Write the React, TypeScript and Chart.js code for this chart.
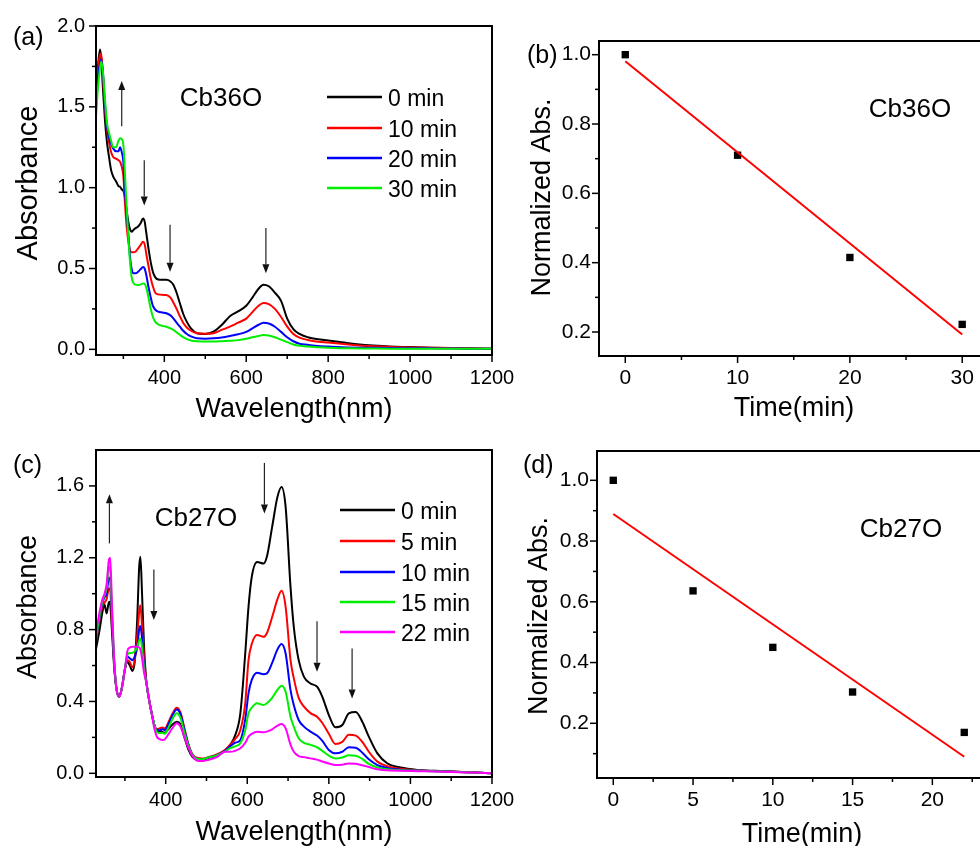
import React, { useEffect, useRef } from "react";
import { Chart, registerables } from "chart.js";

Chart.register(...registerables);

const FONT = '"Liberation Sans", Arial, Helvetica, sans-serif';
Chart.defaults.font.family = FONT;
Chart.defaults.color = "#000";

const W = 1000;
const H = 846;
const Y_AXIS_W = 70;
const X_AXIS_H = 40;

// ---------------- Panel (a): Cb36O spectra ----------------
const aWavelength = [
  233, 238, 243, 246, 250,
  255, 260, 265, 270, 275,
  282, 288, 292, 296, 300,
  304, 308, 312, 316, 320,
  325, 330, 336, 342, 348,
  352, 356, 361, 366, 372,
  378, 385, 395, 405, 415,
  422, 430, 438, 446, 455,
  465, 480, 500, 520, 540,
  560, 580, 600, 615, 630,
  642, 655, 670, 685, 700,
  715, 730, 750, 775, 800,
  850, 900, 950, 1000, 1050,
  1100, 1150, 1200,
];
const aAbs0min = [
  1.55, 1.75, 1.855, 1.8, 1.62,
  1.42, 1.28, 1.19, 1.11, 1.07,
  1.04, 1.01, 1.005, 0.99, 0.98,
  0.94, 0.86, 0.79, 0.745, 0.727,
  0.74, 0.75, 0.76, 0.78, 0.81,
  0.79, 0.72, 0.63, 0.55, 0.48,
  0.445, 0.432, 0.43, 0.43, 0.42,
  0.4, 0.35, 0.285, 0.22, 0.17,
  0.13, 0.1, 0.095, 0.109, 0.15,
  0.205, 0.235, 0.27, 0.32, 0.375,
  0.4, 0.39, 0.35, 0.3, 0.19,
  0.125, 0.095, 0.075, 0.062, 0.055,
  0.038, 0.025, 0.018, 0.014, 0.01,
  0.008, 0.006, 0.004,
];
const aAbs10min = [
  1.52, 1.72, 1.82, 1.83, 1.7,
  1.5, 1.36, 1.28, 1.22, 1.19,
  1.18, 1.17, 1.16, 1.13, 1.07,
  0.9, 0.76, 0.67, 0.615, 0.6,
  0.6, 0.605, 0.625, 0.645, 0.665,
  0.65, 0.59, 0.52, 0.45, 0.39,
  0.35, 0.34, 0.337, 0.336, 0.32,
  0.29, 0.25, 0.205, 0.165, 0.135,
  0.115, 0.1, 0.097, 0.1, 0.12,
  0.14, 0.165, 0.19, 0.23, 0.27,
  0.287, 0.28, 0.25, 0.2, 0.14,
  0.095, 0.072, 0.058, 0.047, 0.042,
  0.03, 0.02, 0.015, 0.012, 0.01,
  0.008, 0.005, 0.004,
];
const aAbs20min = [
  1.48, 1.68, 1.77, 1.79, 1.72,
  1.52, 1.38, 1.31, 1.27, 1.243,
  1.225, 1.225, 1.25, 1.22, 1.16,
  0.97, 0.84, 0.72, 0.58, 0.5,
  0.47, 0.47, 0.48, 0.495, 0.51,
  0.5, 0.46, 0.39, 0.33, 0.27,
  0.245, 0.233, 0.228, 0.223, 0.21,
  0.192, 0.165, 0.14, 0.115, 0.095,
  0.08, 0.068, 0.066, 0.068, 0.073,
  0.082, 0.093, 0.108, 0.13, 0.152,
  0.165, 0.16, 0.14, 0.108, 0.075,
  0.05, 0.035, 0.028, 0.02, 0.017,
  0.012, 0.01, 0.008, 0.007, 0.006,
  0.005, 0.004, 0.004,
];
const aAbs30min = [
  1.43, 1.62, 1.74, 1.78, 1.72,
  1.55, 1.4, 1.34, 1.29, 1.25,
  1.25, 1.29, 1.305, 1.3, 1.264,
  1.08, 0.88, 0.7, 0.55, 0.45,
  0.408, 0.4, 0.398, 0.4, 0.408,
  0.405, 0.38, 0.325, 0.26, 0.2,
  0.17, 0.155, 0.145, 0.14, 0.13,
  0.12, 0.105, 0.09, 0.075, 0.063,
  0.055, 0.05, 0.048, 0.048, 0.05,
  0.053, 0.057, 0.065, 0.075, 0.083,
  0.088, 0.085, 0.075, 0.06, 0.045,
  0.03, 0.022, 0.017, 0.013, 0.01,
  0.006, 0.005, 0.004, 0.004, 0.004,
  0.004, 0.003, 0.004,
];
const aLabels = ["0 min", "10 min", "20 min", "30 min"];
const aArrowWl = [296, 351, 414, 648];
const aArrowFrom = [1.38, 1.17, 0.77, 0.75];
const aArrowTo = [1.66, 0.89, 0.48, 0.47];

// ---------------- Panel (b): Cb36O kinetics ----------------
const bTime = [0, 10, 20, 30];
const bNormAbs = [1.0, 0.71, 0.415, 0.222];
const bFitTime = [0, 30];
const bFitAbs = [0.981, 0.193];

// ---------------- Panel (c): Cb27O spectra ----------------
const cWavelength = [
  229, 238, 245, 250, 255,
  261, 264, 268, 274, 280,
  286, 292, 300, 306, 312,
  318, 324, 330, 335, 338,
  342, 347, 353, 360, 366,
  372, 378, 385, 392, 398,
  406, 416, 427, 436, 446,
  456, 466, 478, 490, 505,
  525, 545, 558, 570, 583,
  595, 603, 611, 624, 640,
  648, 661, 674, 684, 694,
  706, 714, 726, 739, 755,
  771, 784, 800, 816, 833,
  849, 866, 882, 898, 919,
  943, 976, 1017, 1080, 1150,
  1200,
];
const cAbs0min = [
  0.69, 0.8, 0.9, 0.94, 0.89,
  0.955, 0.94, 0.8, 0.58, 0.46,
  0.426, 0.47, 0.58, 0.62, 0.6,
  0.57, 0.62, 0.85, 1.15, 1.205,
  1.0, 0.7, 0.5, 0.4, 0.33,
  0.27, 0.24, 0.235, 0.23, 0.225,
  0.245, 0.27, 0.287, 0.275, 0.2,
  0.13, 0.09, 0.075, 0.075, 0.085,
  0.1, 0.125, 0.158, 0.21, 0.334,
  0.667, 0.927, 1.094, 1.177, 1.168,
  1.205, 1.372, 1.539, 1.594, 1.483,
  1.038, 0.816, 0.63, 0.537, 0.5,
  0.482, 0.426, 0.324, 0.256, 0.269,
  0.334, 0.341, 0.287, 0.204, 0.111,
  0.056, 0.032, 0.019, 0.012, 0.006,
  0.0,
];
const cAbs5min = [
  0.73, 0.86, 0.93, 0.95, 0.97,
  1.03, 1.02, 0.85, 0.6, 0.46,
  0.426, 0.47, 0.58, 0.63, 0.62,
  0.59, 0.63, 0.76, 0.9, 0.936,
  0.82, 0.64, 0.5, 0.4, 0.33,
  0.27, 0.245, 0.25, 0.255, 0.25,
  0.28, 0.33, 0.365, 0.34, 0.25,
  0.16, 0.105, 0.085, 0.082, 0.09,
  0.105, 0.13, 0.16, 0.19, 0.24,
  0.39, 0.63, 0.72, 0.77, 0.76,
  0.78, 0.87, 0.97, 1.016, 0.927,
  0.63, 0.53, 0.42, 0.371, 0.335,
  0.315, 0.28, 0.22, 0.163, 0.175,
  0.215, 0.21, 0.175, 0.12, 0.065,
  0.04, 0.025, 0.017, 0.011, 0.006,
  0.0,
];
const cAbs10min = [
  0.74, 0.87, 0.95, 0.98, 1.0,
  1.09, 1.08, 0.88, 0.6, 0.46,
  0.426, 0.47, 0.58, 0.65, 0.64,
  0.63, 0.65, 0.7, 0.8, 0.82,
  0.75, 0.6, 0.5, 0.4, 0.33,
  0.27, 0.24, 0.24, 0.245, 0.24,
  0.27, 0.32, 0.355, 0.33, 0.24,
  0.155, 0.1, 0.08, 0.078, 0.088,
  0.1, 0.125, 0.15, 0.17, 0.185,
  0.3, 0.445, 0.52, 0.56, 0.552,
  0.556, 0.615, 0.69, 0.72, 0.667,
  0.463, 0.38, 0.297, 0.26, 0.232,
  0.21, 0.18, 0.13, 0.111, 0.12,
  0.145, 0.142, 0.115, 0.078, 0.046,
  0.03, 0.02, 0.015, 0.01, 0.005,
  0.0,
];
const cAbs15min = [
  0.75, 0.88, 0.96, 0.99, 1.03,
  1.15, 1.13, 0.92, 0.62, 0.46,
  0.426, 0.47, 0.58, 0.66, 0.67,
  0.67, 0.68, 0.7, 0.74, 0.75,
  0.7, 0.58, 0.5, 0.4, 0.33,
  0.27, 0.23, 0.225, 0.225, 0.22,
  0.25, 0.3, 0.335, 0.31, 0.225,
  0.15, 0.1, 0.08, 0.078, 0.088,
  0.1, 0.12, 0.14, 0.15, 0.167,
  0.24, 0.334, 0.365, 0.39, 0.38,
  0.39, 0.42, 0.465, 0.488, 0.454,
  0.315, 0.26, 0.195, 0.17, 0.158,
  0.145, 0.125, 0.098, 0.083, 0.088,
  0.1, 0.098, 0.08, 0.052, 0.032,
  0.022, 0.017, 0.014, 0.01, 0.005,
  0.0,
];
const cAbs22min = [
  0.78, 0.9, 0.97, 1.0, 1.05,
  1.19, 1.2, 0.95, 0.62, 0.46,
  0.426, 0.47, 0.58, 0.68, 0.7,
  0.705, 0.705, 0.705, 0.7, 0.69,
  0.64, 0.56, 0.5, 0.4, 0.33,
  0.25, 0.205, 0.19, 0.185, 0.19,
  0.215, 0.25, 0.278, 0.26, 0.2,
  0.14, 0.095, 0.07, 0.068, 0.075,
  0.09, 0.12, 0.12, 0.125, 0.139,
  0.17, 0.204, 0.22, 0.232, 0.228,
  0.232, 0.245, 0.265, 0.274, 0.25,
  0.16, 0.12, 0.096, 0.09, 0.083,
  0.076, 0.066, 0.055, 0.046, 0.048,
  0.055, 0.053, 0.045, 0.035, 0.022,
  0.017, 0.014, 0.012, 0.009, 0.004,
  0.0,
];
const cLabels = ["0 min", "5 min", "10 min", "15 min", "22 min"];
const cArrowWl = [262, 371, 642, 771, 857];
const cArrowFrom = [1.28, 1.135, 1.728, 0.847, 0.695];
const cArrowTo = [1.554, 0.853, 1.446, 0.565, 0.417];

// ---------------- Panel (d): Cb27O kinetics ----------------
const dTime = [0, 5, 10, 15, 22];
const dNormAbs = [1.0, 0.636, 0.45, 0.303, 0.17];
const dFitTime = [0, 22];
const dFitAbs = [0.889, 0.09];

// ---------------- Tick values ----------------
const wlMajor = [400, 600, 800, 1000, 1200];
const wlMinor = [300, 500, 700, 900, 1100];
const aAbsMajor = [0, 0.5, 1.0, 1.5, 2.0];
const aAbsMinor = [0.25, 0.75, 1.25, 1.75];
const cAbsMajor = [0, 0.4, 0.8, 1.2, 1.6];
const cAbsMinor = [0.2, 0.6, 1.0, 1.4];
const bTimeMajor = [0, 10, 20, 30];
const bTimeMinor = [5, 15, 25];
const dTimeMajor = [0, 5, 10, 15, 20];
const dTimeMinor = [2.5, 7.5, 12.5, 17.5, 22.5];
const normMajor = [0.2, 0.4, 0.6, 0.8, 1.0];
const normMinor = [0.1, 0.3, 0.5, 0.7, 0.9];

// ---------------- helpers ----------------
const pairs = (xs: number[], ys: number[]) => xs.map((x, i) => ({ x, y: ys[i] }));

const spectrum = (label: string, xs: number[], ys: number[], color: string, order: number) => ({
  label,
  data: pairs(xs, ys),
  showLine: true,
  borderColor: color,
  backgroundColor: color,
  borderWidth: 2,
  pointRadius: 0,
  cubicInterpolationMode: "monotone",
  order,
});

type TextItem = { text: string; x: number; y: number; size: number; align?: CanvasTextAlign; rotate?: boolean };

type PanelSpec = {
  id: string;
  area: [number, number, number, number];
  xRange: [number, number];
  yRange: [number, number];
  xMajor: number[];
  xMinor: number[];
  yMajor: number[];
  yMinor: number[];
  xDec: number;
  yDec: number;
  tickSize: number;
  xPad: number;
  yPad: number;
  datasets: any[];
  texts: TextItem[];
  legend?: { x1: number; x2: number; tx: number; rows: number[]; dy: number; size: number };
  arrows?: { wl: number[]; from: number[]; to: number[] };
};

const decoPlugin = (spec: PanelSpec) => ({
  id: "deco" + spec.id,
  afterDraw(chart: any) {
    const ctx: CanvasRenderingContext2D = chart.ctx;
    const a = chart.chartArea;
    const xs = chart.scales.x;
    const ys = chart.scales.y;
    ctx.save();
    ctx.strokeStyle = "#000";
    ctx.fillStyle = "#000";

    // tick marks
    ctx.lineWidth = 1.5;
    const xt = (vals: number[], len: number) => {
      for (const v of vals) {
        const p = xs.getPixelForValue(v);
        if (p < a.left - 0.5 || p > a.right + 0.5) continue;
        ctx.beginPath();
        ctx.moveTo(p, a.bottom);
        ctx.lineTo(p, a.bottom + len);
        ctx.stroke();
      }
    };
    const yt = (vals: number[], len: number) => {
      for (const v of vals) {
        const p = ys.getPixelForValue(v);
        if (p < a.top - 0.5 || p > a.bottom + 0.5) continue;
        ctx.beginPath();
        ctx.moveTo(a.left, p);
        ctx.lineTo(a.left - len, p);
        ctx.stroke();
      }
    };
    xt(spec.xMajor, 7);
    xt(spec.xMinor, 4);
    yt(spec.yMajor, 7);
    yt(spec.yMinor, 4);

    // frame
    ctx.lineWidth = 2;
    ctx.strokeRect(a.left, a.top, a.right - a.left, a.bottom - a.top);

    // arrows
    if (spec.arrows) {
      const { wl, from, to } = spec.arrows;
      for (let i = 0; i < wl.length; i++) {
        const px = xs.getPixelForValue(wl[i]);
        const y1 = ys.getPixelForValue(from[i]);
        const y2 = ys.getPixelForValue(to[i]);
        const dir = Math.sign(y2 - y1);
        const head = 9;
        const hw = 3.5;
        ctx.strokeStyle = "#222";
        ctx.fillStyle = "#111";
        ctx.lineWidth = 1.2;
        ctx.beginPath();
        ctx.moveTo(px, y1);
        ctx.lineTo(px, y2 - dir * head);
        ctx.stroke();
        ctx.beginPath();
        ctx.moveTo(px, y2);
        ctx.lineTo(px - hw, y2 - dir * head);
        ctx.lineTo(px + hw, y2 - dir * head);
        ctx.closePath();
        ctx.fill();
      }
    }

    // legend
    if (spec.legend) {
      const lg = spec.legend;
      const ds = chart.data.datasets;
      ctx.font = `${lg.size}px ${FONT}`;
      ctx.textAlign = "left";
      ctx.textBaseline = "alphabetic";
      ds.forEach((d: any, i: number) => {
        const y = lg.rows[i];
        ctx.strokeStyle = d.borderColor;
        ctx.lineWidth = 2.5;
        ctx.beginPath();
        ctx.moveTo(lg.x1, y);
        ctx.lineTo(lg.x2, y);
        ctx.stroke();
        ctx.fillStyle = "#000";
        ctx.fillText(d.label, lg.tx, y + lg.dy);
      });
    }

    // texts
    ctx.fillStyle = "#000";
    ctx.textBaseline = "alphabetic";
    for (const t of spec.texts) {
      ctx.font = `${t.size}px ${FONT}`;
      if (t.rotate) {
        ctx.save();
        ctx.translate(t.x, t.y);
        ctx.rotate(-Math.PI / 2);
        ctx.textAlign = "center";
        ctx.fillText(t.text, 0, 0);
        ctx.restore();
      } else {
        ctx.textAlign = t.align || "center";
        ctx.fillText(t.text, t.x, t.y);
      }
    }
    ctx.restore();
  },
});

function buildChart(canvas: HTMLCanvasElement, spec: PanelSpec) {
  const [L, T, R, B] = spec.area;
  const xTicks = [...spec.xMajor, ...spec.xMinor].sort((p, q) => p - q);
  const yTicks = [...spec.yMajor, ...spec.yMinor].sort((p, q) => p - q);
  const tickFont = { family: FONT, size: spec.tickSize };
  return new Chart(canvas, {
    type: "scatter",
    data: { datasets: spec.datasets },
    options: {
      animation: false,
      responsive: false,
      maintainAspectRatio: false,
      events: [],
      layout: {
        padding: { left: L - Y_AXIS_W, top: T, right: W - R, bottom: H - B - X_AXIS_H },
      },
      plugins: { legend: { display: false }, tooltip: { enabled: false } },
      scales: {
        x: {
          type: "linear",
          position: "bottom",
          min: spec.xRange[0],
          max: spec.xRange[1],
          grid: { display: false, drawTicks: false },
          border: { display: false },
          afterBuildTicks: (s: any) => {
            s.ticks = xTicks.map((v) => ({ value: v }));
          },
          afterFit: (s: any) => {
            s.height = X_AXIS_H;
          },
          ticks: {
            autoSkip: false,
            maxRotation: 0,
            minRotation: 0,
            padding: spec.xPad,
            color: "#000",
            font: tickFont,
            callback: (v: any) => (spec.xMajor.includes(Number(v)) ? Number(v).toFixed(spec.xDec) : ""),
          },
        },
        y: {
          type: "linear",
          position: "left",
          min: spec.yRange[0],
          max: spec.yRange[1],
          grid: { display: false, drawTicks: false },
          border: { display: false },
          afterBuildTicks: (s: any) => {
            s.ticks = yTicks.map((v) => ({ value: v }));
          },
          afterFit: (s: any) => {
            s.width = Y_AXIS_W;
          },
          ticks: {
            autoSkip: false,
            padding: spec.yPad,
            color: "#000",
            font: tickFont,
            callback: (v: any) => (spec.yMajor.includes(Number(v)) ? Number(v).toFixed(spec.yDec) : ""),
          },
        },
      },
    } as any,
    plugins: [decoPlugin(spec)],
  });
}

const markerSet = (xs: number[], ys: number[]) => ({
  label: "data",
  data: pairs(xs, ys),
  showLine: false,
  pointStyle: "rect",
  pointRadius: 5.2,
  pointBorderWidth: 0,
  backgroundColor: "#000",
  borderColor: "#000",
  order: 1,
});
const fitSet = (xs: number[], ys: number[]) => ({
  label: "fit",
  data: pairs(xs, ys),
  showLine: true,
  borderColor: "#ff0000",
  borderWidth: 2,
  pointRadius: 0,
  order: 0,
});

const PANELS: PanelSpec[] = [
  {
    id: "a",
    area: [96, 26, 492, 355],
    xRange: [233.2, 1200],
    yRange: [-0.035, 2.0],
    xMajor: wlMajor,
    xMinor: wlMinor,
    yMajor: aAbsMajor,
    yMinor: aAbsMinor,
    xDec: 0,
    yDec: 1,
    tickSize: 20,
    xPad: 11,
    yPad: 11,
    datasets: [
      spectrum(aLabels[0], aWavelength, aAbs0min, "#000000", 0),
      spectrum(aLabels[1], aWavelength, aAbs10min, "#ff0000", -1),
      spectrum(aLabels[2], aWavelength, aAbs20min, "#0000ff", -2),
      spectrum(aLabels[3], aWavelength, aAbs30min, "#00ee00", -3),
    ],
    texts: [
      { text: "Absorbance", x: 37, y: 183, size: 29, rotate: true },
      { text: "Wavelength(nm)", x: 294, y: 417, size: 27 },
      { text: "(a)", x: 13, y: 45, size: 25, align: "left" },
      { text: "Cb36O", x: 221, y: 106, size: 26 },
    ],
    legend: { x1: 327, x2: 382, tx: 388, rows: [97, 128, 158, 188], dy: 8.5, size: 23 },
    arrows: { wl: aArrowWl, from: aArrowFrom, to: aArrowTo },
  },
  {
    id: "b",
    area: [599, 41, 985, 356],
    xRange: [-2.34, 32.03],
    yRange: [0.1308, 1.0395],
    xMajor: bTimeMajor,
    xMinor: bTimeMinor,
    yMajor: normMajor,
    yMinor: normMinor,
    xDec: 0,
    yDec: 1,
    tickSize: 21,
    xPad: 10,
    yPad: 8,
    datasets: [fitSet(bFitTime, bFitAbs), markerSet(bTime, bNormAbs)],
    texts: [
      { text: "Normalized Abs.", x: 550, y: 197.5, size: 27, rotate: true },
      { text: "Time(min)", x: 794, y: 416, size: 27 },
      { text: "(b)", x: 527, y: 63, size: 25, align: "left" },
      { text: "Cb36O", x: 910, y: 117, size: 26 },
    ],
  },
  {
    id: "c",
    area: [96, 450, 492, 777],
    xRange: [229.1, 1200],
    yRange: [-0.0206, 1.8],
    xMajor: wlMajor,
    xMinor: wlMinor,
    yMajor: cAbsMajor,
    yMinor: cAbsMinor,
    xDec: 0,
    yDec: 1,
    tickSize: 20,
    xPad: 11,
    yPad: 12,
    datasets: [
      spectrum(cLabels[0], cWavelength, cAbs0min, "#000000", 0),
      spectrum(cLabels[1], cWavelength, cAbs5min, "#ff0000", -1),
      spectrum(cLabels[2], cWavelength, cAbs10min, "#0000ff", -2),
      spectrum(cLabels[3], cWavelength, cAbs15min, "#00ee00", -3),
      spectrum(cLabels[4], cWavelength, cAbs22min, "#ff00ff", -4),
    ],
    texts: [
      { text: "Absorbance", x: 36, y: 607, size: 27, rotate: true },
      { text: "Wavelength(nm)", x: 294, y: 840, size: 27 },
      { text: "(c)", x: 13, y: 473, size: 25, align: "left" },
      { text: "Cb27O", x: 196, y: 526, size: 26 },
    ],
    legend: { x1: 340, x2: 395, tx: 401, rows: [510, 541, 572, 602, 632], dy: 9, size: 23 },
    arrows: { wl: cArrowWl, from: cArrowFrom, to: cArrowTo },
  },
  {
    id: "d",
    area: [597, 451, 985, 778],
    xRange: [-1.02, 23.3],
    yRange: [0.0199, 1.0965],
    xMajor: dTimeMajor,
    xMinor: dTimeMinor,
    yMajor: normMajor,
    yMinor: normMinor,
    xDec: 0,
    yDec: 1,
    tickSize: 21,
    xPad: 10,
    yPad: 8,
    datasets: [fitSet(dFitTime, dFitAbs), markerSet(dTime, dNormAbs)],
    texts: [
      { text: "Normalized Abs.", x: 547, y: 616, size: 27, rotate: true },
      { text: "Time(min)", x: 802, y: 842, size: 27 },
      { text: "(d)", x: 523, y: 473, size: 25, align: "left" },
      { text: "Cb27O", x: 901, y: 537, size: 26 },
    ],
  },
];

function PanelCanvas({ spec }: { spec: PanelSpec }) {
  const ref = useRef<HTMLCanvasElement>(null);
  useEffect(() => {
    if (!ref.current) return;
    const chart = buildChart(ref.current, spec);
    return () => chart.destroy();
  }, [spec]);
  return (
    <canvas
      ref={ref}
      width={W}
      height={H}
      style={{ position: "absolute", left: 0, top: 0, width: W, height: H }}
    />
  );
}

export default function App() {
  return (
    <div
      style={{
        position: "fixed",
        left: 0,
        top: 0,
        width: 980,
        height: 846,
        overflow: "hidden",
        background: "#fff",
      }}
    >
      {PANELS.map((p) => (
        <PanelCanvas key={p.id} spec={p} />
      ))}
    </div>
  );
}
